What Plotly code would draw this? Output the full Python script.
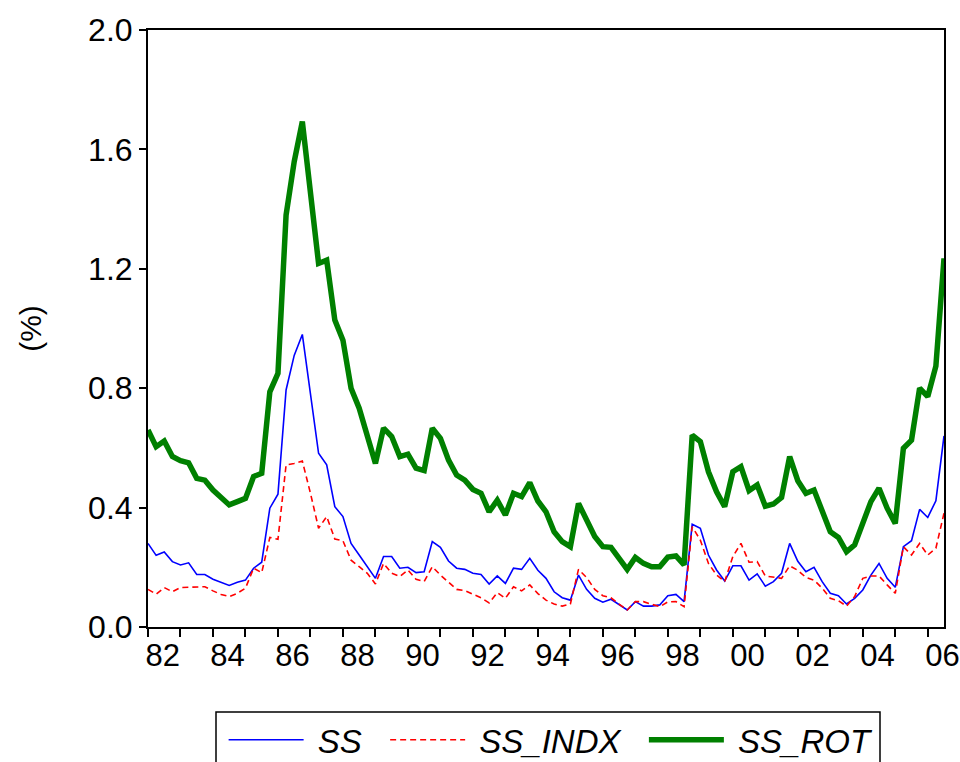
import plotly.graph_objects as go

# Quarterly series, 1982Q1 - 2006Q3 (percent)
start_year = 1982
ss = [0.28, 0.24, 0.251, 0.219, 0.208, 0.215, 0.176, 0.176, 0.16, 0.149,
      0.139, 0.15, 0.157, 0.197, 0.217, 0.398, 0.445, 0.794, 0.91, 0.98,
      0.783, 0.582, 0.543, 0.403, 0.37, 0.28, 0.241, 0.202, 0.163, 0.236,
      0.236, 0.197, 0.2, 0.182, 0.185, 0.286, 0.267, 0.221, 0.197, 0.193,
      0.18, 0.176, 0.144, 0.171, 0.146, 0.197, 0.193, 0.23, 0.19, 0.163,
      0.118, 0.098, 0.09, 0.174, 0.126, 0.096, 0.083, 0.093, 0.074, 0.057,
      0.085, 0.07, 0.07, 0.074, 0.105, 0.109, 0.085, 0.344, 0.331, 0.241,
      0.191, 0.154, 0.205, 0.205, 0.157, 0.178, 0.137, 0.152, 0.18, 0.28,
      0.22, 0.185, 0.2, 0.152, 0.113, 0.105, 0.077, 0.096, 0.124, 0.174,
      0.213, 0.163, 0.133, 0.269, 0.289, 0.394, 0.367, 0.423, 0.64]
ss_indx = [0.126, 0.11, 0.132, 0.118, 0.132, 0.133, 0.133, 0.135, 0.121, 0.109,
           0.102, 0.113, 0.13, 0.197, 0.182, 0.30, 0.294, 0.543, 0.548, 0.556,
           0.448, 0.331, 0.37, 0.295, 0.289, 0.224, 0.202, 0.18, 0.144, 0.213,
           0.18, 0.169, 0.191, 0.16, 0.152, 0.202, 0.174, 0.149, 0.126, 0.122,
           0.11, 0.098, 0.081, 0.115, 0.096, 0.135, 0.121, 0.141, 0.112, 0.09,
           0.077, 0.07, 0.077, 0.193, 0.166, 0.126, 0.105, 0.098, 0.077, 0.057,
           0.085, 0.085, 0.076, 0.068, 0.084, 0.085, 0.068, 0.336, 0.291, 0.213,
           0.174, 0.152, 0.236, 0.28, 0.217, 0.219, 0.171, 0.166, 0.163, 0.205,
           0.19, 0.166, 0.157, 0.13, 0.096, 0.088, 0.07, 0.102, 0.163, 0.171,
           0.171, 0.141, 0.113, 0.269, 0.241, 0.28, 0.241, 0.264, 0.381]
ss_rot = [0.66, 0.604, 0.623, 0.571, 0.557, 0.55, 0.498, 0.492, 0.459, 0.433,
          0.409, 0.42, 0.431, 0.504, 0.515, 0.788, 0.85, 1.38, 1.559, 1.693,
          1.464, 1.218, 1.229, 1.028, 0.961, 0.80, 0.733, 0.643, 0.548, 0.666,
          0.638, 0.571, 0.579, 0.532, 0.524, 0.666, 0.632, 0.559, 0.509, 0.492,
          0.461, 0.448, 0.386, 0.425, 0.375, 0.448, 0.437, 0.484, 0.422, 0.386,
          0.319, 0.286, 0.269, 0.414, 0.358, 0.303, 0.269, 0.267, 0.23, 0.193,
          0.233, 0.213, 0.202, 0.202, 0.234, 0.238, 0.208, 0.643, 0.621, 0.52,
          0.453, 0.403, 0.52, 0.537, 0.457, 0.476, 0.405, 0.412, 0.434, 0.571,
          0.49, 0.448, 0.459, 0.386, 0.319, 0.30, 0.252, 0.275, 0.342, 0.42,
          0.465, 0.398, 0.347, 0.599, 0.626, 0.80, 0.772, 0.874, 1.235]

years = list(range(1982, 2007))
label_years = [y for y in years if y % 2 == 0]
year_labels = [f"{y % 100:02d}" for y in label_years]
y_ticks = [0.0, 0.4, 0.8, 1.2, 1.6, 2.0]

# time position of each quarterly observation
t = [start_year + q / 4 for q in range(len(ss))]

FONT = "Liberation Sans, Arial, Helvetica, sans-serif"
NB = "\u00a0"

fig = go.Figure()
fig.add_trace(go.Scatter(x=t, y=ss, name=NB + "SS" + NB * 2, mode="lines",
                         line=dict(color="#0000FF", width=1.6)))
fig.add_trace(go.Scatter(x=t, y=ss_indx, name=NB + "SS_INDX" + NB * 2, mode="lines",
                         line=dict(color="#FF0000", width=1.6, dash="6px,4px")))
fig.add_trace(go.Scatter(x=t, y=ss_rot, name=NB + "SS_ROT", mode="lines",
                         line=dict(color="#008000", width=5.5)))

fig.update_layout(
    width=960, height=762,
    margin=dict(l=148, r=16, t=30, b=135, autoexpand=False),
    paper_bgcolor="white", plot_bgcolor="white",
    font=dict(family=FONT, color="black"),
    showlegend=True,
    legend=dict(
        orientation="h", x=0.095, xanchor="left", y=-0.142, yanchor="top",
        font=dict(family=FONT, size=33, style="italic", color="black"),
        itemwidth=75, borderwidth=0, bgcolor="rgba(0,0,0,0)",
        traceorder="normal",
    ),
    shapes=[dict(type="rect", xref="paper", yref="paper",
                 x0=(216 - 148) / 796, x1=(880 - 148) / 796,
                 y0=-0.26, y1=(627 - 712) / 597,
                 line=dict(color="black", width=1.5), fillcolor="rgba(0,0,0,0)")],
)

# year labels sit just right of each year's tick; ticks drawn as minor ticks
fig.update_xaxes(
    range=[1982, 2006.5],
    tickmode="array", tickvals=[y + 0.45 for y in label_years], ticktext=year_labels,
    ticks="outside", ticklen=0,
    minor=dict(tickmode="array", tickvals=years, ticks="outside", ticklen=8,
               tickwidth=1.5, tickcolor="black", showgrid=False),
    showgrid=False, zeroline=False,
    showline=True, linecolor="black", linewidth=2, mirror=True,
    tickfont=dict(family=FONT, size=31, color="black"),
)
fig.update_yaxes(
    range=[0, 2.0],
    tickmode="array", tickvals=y_ticks, ticktext=[f"{v:.1f}" for v in y_ticks],
    ticks="outside", ticklen=7, tickwidth=1.5, tickcolor="black",
    showgrid=False, zeroline=False,
    showline=True, linecolor="black", linewidth=2, mirror=True,
    tickfont=dict(family=FONT, size=32, color="black"),
    title=dict(text="(%)", font=dict(family=FONT, size=30, color="black"), standoff=38),
)

fig.write_html("out.html")
